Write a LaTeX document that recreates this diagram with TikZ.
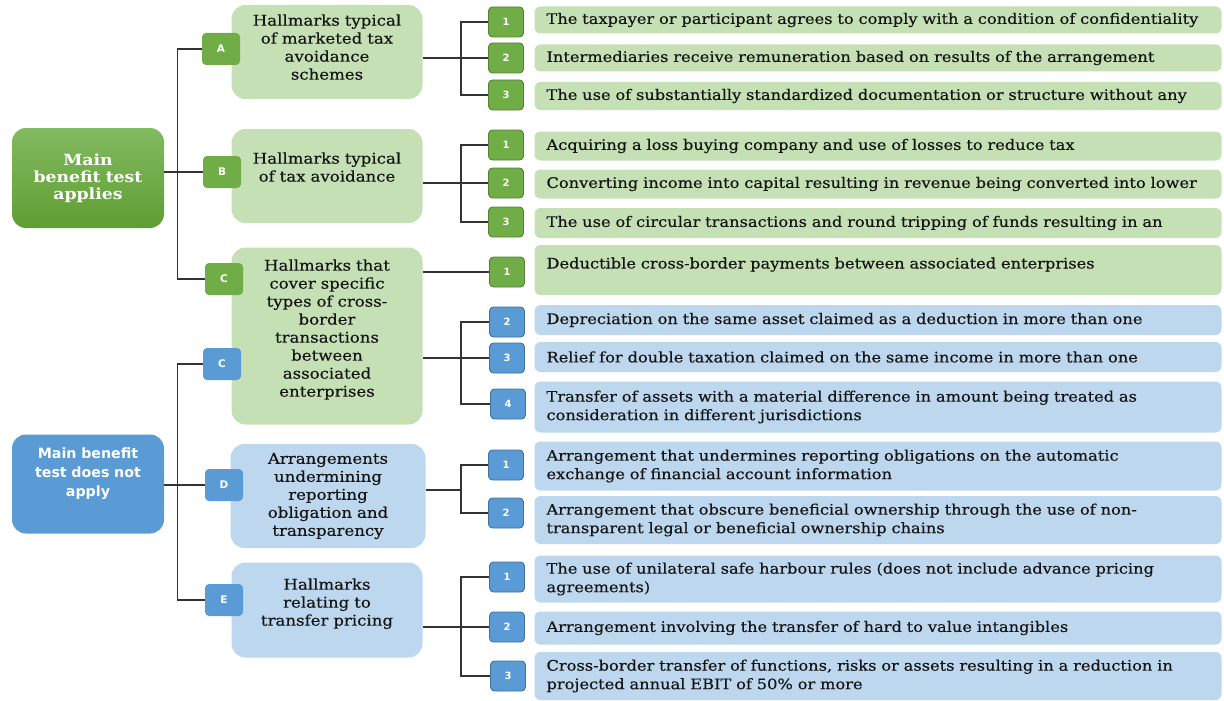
\documentclass[tikz,border=0pt]{standalone}
\usepackage{fontspec}
\setmainfont{DejaVu Serif}[FakeStretch = 1.12, FakeBold = 0.3, BoldFeatures = {FakeBold = 0}]
\setsansfont{DejaVu Sans}
\usetikzlibrary{arrows}
\definecolor{DarkGreen}{HTML}{70AD47}
\definecolor{EdgeGreen}{HTML}{548235}
\definecolor{PaleGreen}{HTML}{C5E0B4}
\definecolor{RootTop}{HTML}{82BA60}
\definecolor{RootBottom}{HTML}{5F9E33}
\definecolor{DarkBlue}{HTML}{5B9BD5}
\definecolor{EdgeBlue}{HTML}{41719C}
\definecolor{PaleBlue}{HTML}{BDD7EE}
\definecolor{TextGray}{HTML}{141414}

\begin{document}
\begin{tikzpicture}[x = 1pt, y = -1pt]
\tikzstyle{RootStyle}=[
shape = rectangle,
rounded corners = 14pt,
minimum width = 152pt,
minimum height = 100pt,
text width = 144pt,
inner sep = 4pt,
text = white,
align = center]
\tikzstyle{TagStyle}=[
shape = rectangle,
rounded corners = 4pt,
minimum width = 38pt,
minimum height = 32pt,
inner sep = 0pt,
text = white,
font = \sffamily\bfseries\fontsize{10.5}{12}\selectfont]
\tikzstyle{NumStyle}=[
TagStyle,
minimum width = 35pt,
minimum height = 30pt,
line width = 0.9pt,
font = \sffamily\bfseries\fontsize{10}{12}\selectfont]
\tikzstyle{GroupStyle}=[
shape = rectangle,
rounded corners = 14pt,
minimum width = 191pt,
text width = 187pt,
inner sep = 2pt,
align = center,
text = TextGray,
font = \fontsize{14.8}{18}\selectfont]
\tikzstyle{ItemStyle}=[
shape = rectangle,
rounded corners = 6pt,
minimum width = 687pt,
text width = 663pt,
inner xsep = 12pt,
inner ysep = 2pt,
align = left,
text = TextGray,
font = \fontsize{14.5}{18.5}\selectfont]
\tikzstyle{EdgeStyle}=[
draw = black!80,
line width = 1.2pt]

\useasboundingbox (0,0) rectangle (1224,701);

\node[RootStyle, top color = RootTop, bottom color = RootBottom, font = \bfseries\fontsize{15.4}{17}\selectfont] (applies) at (88,178) {Main\\ benefit test\\ applies};
\node[RootStyle, fill = DarkBlue, minimum height = 99pt, text depth = 62pt, font = \sffamily\bfseries\fontsize{14.2}{19}\selectfont] (notapplies) at (88,484) {Main benefit\\ test does not\\ apply};

\node[GroupStyle, fill = PaleGreen, minimum height = 94pt, text depth = 64pt] (hmA) at (327,52) {Hallmarks typical\\ of marketed tax\\ avoidance\\ schemes};
\node[GroupStyle, fill = PaleGreen, minimum height = 94pt, text depth = 36pt] (hmB) at (327,176) {Hallmarks typical\\ of tax avoidance};
\node[GroupStyle, fill = PaleGreen, minimum height = 177pt, text depth = 142pt] (hmC) at (327,336) {Hallmarks that\\ cover specific\\ types of cross-\\ border\\ transactions\\ between\\ associated\\ enterprises};
\node[GroupStyle, fill = PaleBlue, minimum width = 195pt, minimum height = 104pt] (hmD) at (328,496) {Arrangements\\ undermining\\ reporting\\ obligation and\\ transparency};
\node[GroupStyle, fill = PaleBlue, minimum height = 95pt, text depth = 52pt] (hmE) at (327,610) {Hallmarks\\ relating to\\ transfer pricing};

\node[TagStyle, fill = DarkGreen] (tagA) at (221,49) {A};
\node[TagStyle, fill = DarkGreen] (tagB) at (222,172) {B};
\node[TagStyle, fill = DarkGreen] (tagCa) at (224,279) {C};
\node[TagStyle, fill = DarkBlue] (tagCb) at (222,364) {C};
\node[TagStyle, fill = DarkBlue] (tagD) at (224,485) {D};
\node[TagStyle, fill = DarkBlue] (tagE) at (224,600) {E};

\node[ItemStyle, fill = PaleGreen, minimum height = 27pt] (iA1) at (878,20) {The taxpayer or participant agrees to comply with a condition of confidentiality};
\node[ItemStyle, fill = PaleGreen, minimum height = 27pt] (iA2) at (878,58) {Intermediaries receive remuneration based on results of the arrangement};
\node[ItemStyle, fill = PaleGreen, minimum height = 28pt] (iA3) at (878,96) {The use of substantially standardized documentation or structure without any};
\node[ItemStyle, fill = PaleGreen, minimum height = 29pt] (iB1) at (878,146) {Acquiring a loss buying company and use of losses to reduce tax};
\node[ItemStyle, fill = PaleGreen, minimum height = 29pt] (iB2) at (878,184) {Converting income into capital resulting in revenue being converted into lower};
\node[ItemStyle, fill = PaleGreen, minimum height = 30pt] (iB3) at (878,223) {The use of circular transactions and round tripping of funds resulting in an};
\node[ItemStyle, fill = PaleGreen, minimum height = 50pt, text depth = 14pt] (iC1) at (878,270) {Deductible cross-border payments between associated enterprises};
\node[ItemStyle, fill = PaleBlue, minimum height = 30pt] (iC2) at (878,320) {Depreciation on the same asset claimed as a deduction in more than one};
\node[ItemStyle, fill = PaleBlue, minimum height = 30pt] (iC3) at (878,357) {Relief for double taxation claimed on the same income in more than one};
\node[ItemStyle, fill = PaleBlue, minimum height = 51pt] (iC4) at (878,407) {Transfer of assets with a material difference in amount being treated as\\ consideration in different jurisdictions};
\node[ItemStyle, fill = PaleBlue, minimum height = 49pt] (iD1) at (878,466) {Arrangement that undermines reporting obligations on the automatic\\ exchange of financial account information};
\node[ItemStyle, fill = PaleBlue, minimum height = 48pt] (iD2) at (878,520) {Arrangement that obscure beneficial ownership through the use of non-\\ transparent legal or beneficial ownership chains};
\node[ItemStyle, fill = PaleBlue, minimum height = 47pt] (iE1) at (878,579) {The use of unilateral safe harbour rules (does not include advance pricing\\ agreements)};
\node[ItemStyle, fill = PaleBlue, minimum height = 33pt] (iE2) at (878,628) {Arrangement involving the transfer of hard to value intangibles};
\node[ItemStyle, fill = PaleBlue, minimum height = 48pt] (iE3) at (878,676) {Cross-border transfer of functions, risks or assets resulting in a reduction in\\ projected annual EBIT of 50\% or more};

\node[NumStyle, fill = DarkGreen, draw = EdgeGreen] (nA1) at (506,22) {1};
\node[NumStyle, fill = DarkGreen, draw = EdgeGreen] (nA2) at (506,58) {2};
\node[NumStyle, fill = DarkGreen, draw = EdgeGreen] (nA3) at (506,95) {3};
\node[NumStyle, fill = DarkGreen, draw = EdgeGreen] (nB1) at (506,145) {1};
\node[NumStyle, fill = DarkGreen, draw = EdgeGreen] (nB2) at (506,183) {2};
\node[NumStyle, fill = DarkGreen, draw = EdgeGreen] (nB3) at (506,222) {3};
\node[NumStyle, fill = DarkGreen, draw = EdgeGreen] (nC1) at (507,272) {1};
\node[NumStyle, fill = DarkBlue, draw = EdgeBlue] (nC2) at (507,322) {2};
\node[NumStyle, fill = DarkBlue, draw = EdgeBlue] (nC3) at (507,358) {3};
\node[NumStyle, fill = DarkBlue, draw = EdgeBlue] (nC4) at (508,404) {4};
\node[NumStyle, fill = DarkBlue, draw = EdgeBlue] (nD1) at (506,465) {1};
\node[NumStyle, fill = DarkBlue, draw = EdgeBlue] (nD2) at (506,513) {2};
\node[NumStyle, fill = DarkBlue, draw = EdgeBlue] (nE1) at (507,577) {1};
\node[NumStyle, fill = DarkBlue, draw = EdgeBlue] (nE2) at (507,627) {2};
\node[NumStyle, fill = DarkBlue, draw = EdgeBlue] (nE3) at (508,676) {3};

\draw[EdgeStyle] (applies.east |- tagB.west) -- (tagB.west);
\draw[EdgeStyle] (tagA.west) -- ++(-24,0) |- (tagCa.west);
\draw[EdgeStyle] (notapplies.east |- tagD.west) -- (tagD.west);
\draw[EdgeStyle] (tagCb.west) -- ++(-25,0) |- (tagE.west);

\draw[EdgeStyle] (hmA.east |- nA2.west) -- (nA2.west);
\draw[EdgeStyle] (nA1.west) -- ++(-27,0) |- (nA3.west);
\draw[EdgeStyle] (hmB.east |- nB2.west) -- (nB2.west);
\draw[EdgeStyle] (nB1.west) -- ++(-27,0) |- (nB3.west);
\draw[EdgeStyle] (hmC.east |- nC1.west) -- (nC1.west);
\draw[EdgeStyle] (hmC.east |- nC3.west) -- (nC3.west);
\draw[EdgeStyle] (nC2.west) -- ++(-28,0) |- (nC4.west);
\draw[EdgeStyle] (nD1.west) -- ++(-27,0) coordinate (bD) |- (nD2.west);
\draw[EdgeStyle] ([yshift = 6pt]hmD.east) -- ([yshift = 6pt]hmD.east -| bD);
\draw[EdgeStyle] (hmE.east |- nE2.west) -- (nE2.west);
\draw[EdgeStyle] (nE1.west) -- ++(-28,0) |- (nE3.west);
\end{tikzpicture}
\end{document}
